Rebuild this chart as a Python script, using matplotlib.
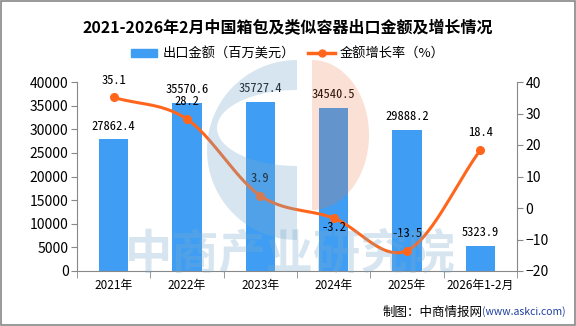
import numpy as np
import matplotlib
matplotlib.use("Agg")
import matplotlib.pyplot as plt
import matplotlib.patches as patches
from matplotlib.lines import Line2D

plt.rcParams['font.family'] = ['Noto Sans CJK SC', 'DejaVu Sans']

# data
years = ['2021年', '2022年', '2023年', '2024年', '2025年', '2026年1-2月']
amount = [27862.4, 35570.6, 35727.4, 34540.5, 29888.2, 5323.9]
growth = [35.1, 28.2, 3.9, -3.2, -13.5, 18.4]

bar_color = '#3f9ef3'
line_color = '#ff661c'
num_font = ['Noto Sans Mono CJK SC', 'DejaVu Sans Mono']


def catmull(x, y, n=30):
    # smooth the drawn curve between the points
    x = np.asarray(x, float)
    y = np.asarray(y, float)
    px = np.concatenate(([2 * x[0] - x[1]], x, [2 * x[-1] - x[-2]]))
    py = np.concatenate(([2 * y[0] - y[1]], y, [2 * y[-1] - y[-2]]))
    xs, ys = [], []
    t = np.linspace(0, 1, n)
    for i in range(1, len(px) - 2):
        for p, out in ((px, xs), (py, ys)):
            p0, p1, p2, p3 = p[i - 1], p[i], p[i + 1], p[i + 2]
            out.extend(0.5 * ((2 * p1) + (-p0 + p2) * t +
                              (2 * p0 - 5 * p1 + 4 * p2 - p3) * t ** 2 +
                              (-p0 + 3 * p1 - 3 * p2 + p3) * t ** 3))
    return np.array(xs), np.array(ys)


fig = plt.figure(figsize=(5.76, 3.26), dpi=100)
ax = fig.add_axes([77 / 576, 1 - 271 / 326, 440 / 576, (271 - 82) / 326])
ax2 = ax.twinx()

x = np.arange(len(years))
ax.bar(x, amount, width=0.4, color=bar_color, zorder=2)
for xi, v in zip(x, amount):
    ax.annotate('%.1f' % v, (xi, v), xytext=(0, 9.5), textcoords='offset points',
                ha='center', va='center', fontsize=9, family=num_font)

sx, sy = catmull(x, growth)
ax2.plot(sx, sy, color=line_color, lw=2.2, zorder=3)
ax2.plot(x, growth, 'o', color=line_color, ms=5.5, zorder=4)
for xi, v in zip(x, growth):
    off = -6.5 if v == -3.2 else 12.5
    ax2.annotate('%.1f' % v, (xi, v), xytext=(0, off), textcoords='offset points',
                 ha='center', va='center', fontsize=9, family=num_font)

ax.set_xlim(-0.5, len(years) - 0.5)
ax.set_ylim(0, 40000)
ax.set_yticks(np.arange(0, 40001, 5000))
ax2.set_ylim(-20, 40)
ax2.set_yticks(np.arange(-20, 41, 10))

ax.set_xticks(x)
ax.set_xticklabels(years, fontsize=8.5)
ax.set_xticks(np.arange(-0.5, len(years), 1), minor=True)
ax.tick_params(axis='x', which='major', length=0, pad=6)
ax.tick_params(axis='x', which='minor', length=5, color='#888888', direction='out')
ax.tick_params(axis='y', labelsize=10, length=4, color='#888888', pad=2)
ax2.tick_params(axis='y', labelsize=10, length=4, color='#888888', pad=2)

for a in (ax, ax2):
    for s in a.spines.values():
        s.set_visible(False)
ax.spines['left'].set_visible(True)
ax.spines['bottom'].set_visible(True)
ax2.spines['right'].set_visible(True)
ax.spines['left'].set_color('#888888')
ax.spines['bottom'].set_color('#888888')
ax2.spines['right'].set_color('#888888')

# watermark logo and text, laid over the chart in pixel coordinates
wm = fig.add_axes([0, 0, 1, 1], zorder=5)
wm.set_xlim(0, 576)
wm.set_ylim(326, 0)
wm.axis('off')
wm.patch.set_alpha(0)
wm_blue = (120 / 255, 171 / 255, 204 / 255)
th_o = np.linspace(np.pi / 2, 3 * np.pi / 2, 60)
th_i = th_o[::-1]
cx, cy = 297, 150
outer = np.c_[cx + 90 * np.cos(th_o), cy - 90 * np.sin(th_o)]
inner = np.c_[cx + 80 * np.cos(th_i), 128 - 38 * np.sin(th_i)]
c_shape = np.vstack([outer, inner])
wm.add_patch(patches.Polygon(c_shape, closed=True, color=wm_blue, alpha=0.3, lw=0))
th_r = np.linspace(-np.pi / 2, np.pi / 2, 60)
half = np.c_[312 + 57 * np.cos(th_r), 135 - 75 * np.sin(th_r)]
wm.add_patch(patches.Polygon(half, closed=True, color=(232 / 255, 115 / 255, 63 / 255),
                             alpha=0.214, lw=0))
wm.text(290, 254, '中商产业研究院', fontsize=34, color=wm_blue,
        alpha=0.3, ha='center', va='center', fontweight='bold')

fig.text(0.5, 1 - 28 / 326, '2021-2026年2月中国箱包及类似容器出口金额及增长情况',
         ha='center', va='center', fontsize=11.5, fontweight='bold')
handles = [patches.Patch(color=bar_color, label='出口金额（百万美元）'),
           Line2D([], [], color=line_color, lw=2.5, marker='o', ms=5, label='金额增长率（%）')]
fig.legend(handles=handles, loc='center', bbox_to_anchor=(0.5, 1 - 54 / 326), ncol=2,
           frameon=False, fontsize=9.5, handlelength=2.0, columnspacing=1.0,
           handletextpad=0.4, handleheight=0.6)

fig.text(483 / 576, 1 - 312 / 326, '制图：中商情报网', fontsize=9, ha='right', va='center')
fig.text(566 / 576, 1 - 312 / 326, '(www.askci.com)', fontsize=7.5, ha='right', va='center',
         color='#1f3f9f')

fig.add_artist(patches.Rectangle((0.001, 0.002), 0.997, 0.996, transform=fig.transFigure,
                                 fill=False, ec='#888888', lw=1.2))

fig.savefig('out.png', dpi=100)
